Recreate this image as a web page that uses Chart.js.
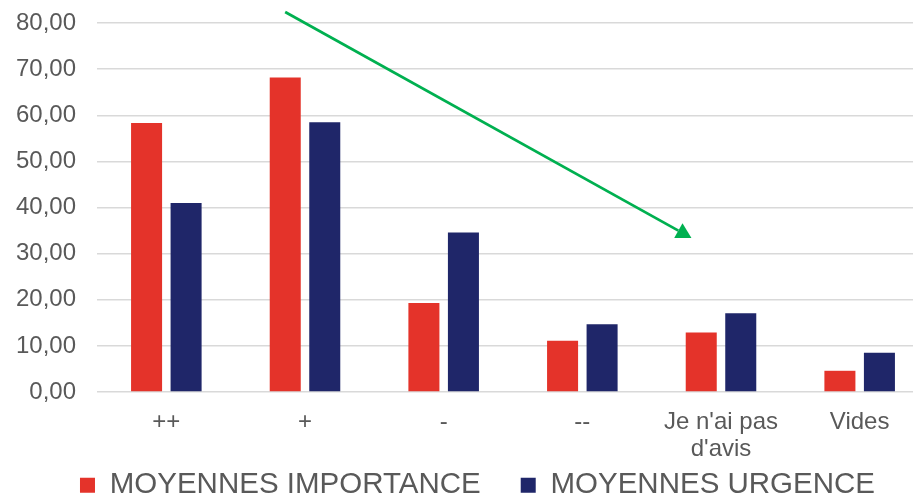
<!DOCTYPE html>
<html lang="fr">
<head>
<meta charset="utf-8">
<title>Moyennes importance / urgence</title>
<script src="https://cdn.jsdelivr.net/npm/chart.js@4.4.1/dist/chart.umd.min.js"></script>
<style>
  html, body { margin: 0; padding: 0; background: #fff; overflow: hidden; }
  #wrap { position: relative; width: 929px; height: 544px; }
</style>
</head>
<body>
<div id="wrap"><canvas id="chart"></canvas></div>
<script>
const categories = ['++', '+', '-', '--', ["Je n'ai pas", "d'avis"], 'Vides'];
const importance = [58.3, 68.2, 19.3, 11.1, 12.9, 4.6];
const urgence = [41.0, 58.5, 34.6, 14.7, 17.1, 8.5];
const yTickLabels = ['0,00', '10,00', '20,00', '30,00', '40,00', '50,00', '60,00', '70,00', '80,00'];

// trend arrow, in axis units (category index, value)
const arrowFrom = [0.857, 82.4];
const arrowTo = [3.787, 33.4];

const textColor = '#595959';
const fontFamily = "'Liberation Sans', Arial, sans-serif";

const trendArrow = {
    id: 'trendArrow',
    afterDatasetsDraw(chart) {
        const { ctx, scales: { x, y } } = chart;
        const x1 = x.getPixelForValue(arrowFrom[0]);
        const y1 = y.getPixelForValue(arrowFrom[1]);
        const x2 = x.getPixelForValue(arrowTo[0]);
        const y2 = y.getPixelForValue(arrowTo[1]);
        const angle = Math.atan2(y2 - y1, x2 - x1);
        const headLen = 15;
        const headHalf = 8.5;
        const bx = x2 - headLen * Math.cos(angle);
        const by = y2 - headLen * Math.sin(angle);

        ctx.save();
        ctx.strokeStyle = '#00B050';
        ctx.fillStyle = '#00B050';
        ctx.lineWidth = 2.75;
        ctx.beginPath();
        ctx.moveTo(x1, y1);
        ctx.lineTo(bx, by);
        ctx.stroke();

        ctx.beginPath();
        ctx.moveTo(x2, y2);
        ctx.lineTo(bx + headHalf * Math.sin(angle), by - headHalf * Math.cos(angle));
        ctx.lineTo(bx - headHalf * Math.sin(angle), by + headHalf * Math.cos(angle));
        ctx.closePath();
        ctx.fill();
        ctx.restore();
    }
};

// the legend is wide and sits a bit right of centre, tucked under the axis labels
const legendNudge = {
    id: 'legendNudge',
    afterLayout(chart) {
        const lg = chart.legend;
        lg.left += 13;
        lg.right += 13;
        lg.top -= 34;
        lg.bottom -= 34;
    }
};

new Chart(document.getElementById('chart'), {
    type: 'bar',
    data: {
        labels: categories,
        datasets: [
            {
                label: 'MOYENNES IMPORTANCE',
                data: importance,
                backgroundColor: '#E4332A'
            },
            {
                label: 'MOYENNES URGENCE',
                data: urgence,
                backgroundColor: '#1F2669'
            }
        ]
    },
    options: {
        responsive: true,
        maintainAspectRatio: false,
        animation: false,
        categoryPercentage: 0.57,
        barPercentage: 0.785,
        layout: {
            padding: { top: 23, left: 0, right: 0, bottom: 0 }
        },
        scales: {
            x: {
                grid: { display: false },
                border: { display: false },
                ticks: {
                    color: textColor,
                    padding: 9,
                    maxRotation: 0,
                    autoSkip: false,
                    font: { family: fontFamily, size: 24, lineHeight: 1.13 }
                },
                afterFit(scale) { scale.height = 72.5; }
            },
            y: {
                min: 0,
                max: 80,
                border: { display: false },
                grid: { color: '#D9D9D9', lineWidth: 1.5, tickLength: 13, tickColor: 'transparent' },
                ticks: {
                    stepSize: 10,
                    color: textColor,
                    padding: 8,
                    font: { family: fontFamily, size: 24 },
                    callback: (value, index) => yTickLabels[index]
                },
                afterFit(scale) { scale.width = 97; }
            }
        },
        plugins: {
            tooltip: { enabled: false },
            legend: {
                position: 'bottom',
                labels: {
                    color: textColor,
                    boxWidth: 15,
                    boxHeight: 15,
                    padding: 40,
                    font: { family: fontFamily, size: 29.5 }
                }
            }
        }
    },
    plugins: [trendArrow, legendNudge]
});
</script>
</body>
</html>
